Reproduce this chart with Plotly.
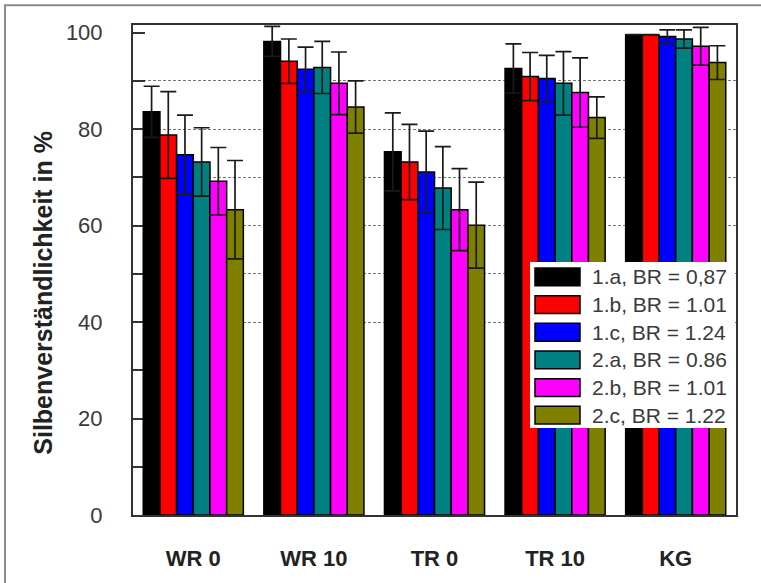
import plotly.graph_objects as go

# Test conditions on the x axis
CONDITIONS = ["WR 0", "WR 10", "TR 0", "TR 10", "KG"]

# Series (one per codec setting) with legend labels and fill colours
SERIES_LABELS = [
    "1.a, BR = 0,87",
    "1.b, BR = 1.01",
    "1.c, BR = 1.24",
    "2.a, BR = 0.86",
    "2.b, BR = 1.01",
    "2.c, BR = 1.22",
]
SERIES_COLORS = ["#000000", "#ff0000", "#0000ff", "#008080", "#ff00ff", "#808000"]

# Mean syllable intelligibility (%) per series, in CONDITIONS order
MEAN_1A = [83.6, 98.2, 75.3, 92.6, 99.6]
MEAN_1B = [78.8, 94.1, 73.2, 90.9, 99.6]
MEAN_1C = [74.7, 92.4, 71.1, 90.5, 99.2]
MEAN_2A = [73.2, 92.8, 67.8, 89.5, 98.7]
MEAN_2B = [69.2, 89.5, 63.3, 87.6, 97.2]
MEAN_2C = [63.3, 84.6, 60.1, 82.4, 93.8]

# Standard deviations (symmetric error bars)
SD_1A = [5.3, 3.1, 8.1, 5.1, 0.0]
SD_1B = [9.0, 4.6, 7.8, 5.0, 0.0]
SD_1C = [8.2, 4.6, 8.5, 4.8, 1.4]
SD_2A = [7.1, 5.4, 8.6, 6.6, 1.9]
SD_2B = [7.0, 6.5, 8.5, 7.2, 3.9]
SD_2C = [10.2, 5.4, 8.9, 4.3, 3.5]

MEANS = [MEAN_1A, MEAN_1B, MEAN_1C, MEAN_2A, MEAN_2B, MEAN_2C]
SDS = [SD_1A, SD_1B, SD_1C, SD_2A, SD_2B, SD_2C]

# Tick values for the y axis and the levels that carry dotted grid lines
Y_TICKS = [0, 20, 40, 60, 80, 100]
GRID_LEVELS = [40, 50, 60, 70, 80, 90]
Y_RANGE = [0, 101.6]
Y_TITLE = "Silbenverständlichkeit in %"

FONT = "Arial, 'Liberation Sans', sans-serif"
W, H = 761, 583
M_L, M_R, M_T, M_B = 133, 25, 25, 62
PW, PH = W - M_L - M_R, H - M_T - M_B


def px_x(px):
    return (px - M_L) / PW


def px_y(py):
    return (H - M_B - py) / PH


fig = go.Figure()

for label, color, mean, sd in zip(SERIES_LABELS, SERIES_COLORS, MEANS, SDS):
    fig.add_trace(go.Bar(
        x=CONDITIONS,
        y=mean,
        name=label,
        marker=dict(color=color, line=dict(color="#000000", width=1.5)),
        error_y=dict(type="data", array=sd, symmetric=True,
                     color="#1a1a1a", thickness=1.7, width=8),
        showlegend=False,
    ))

# Empty trace on the overlay axis that draws the dotted grid
fig.add_trace(go.Scatter(x=[], y=[], yaxis="y2", showlegend=False, hoverinfo="skip"))

# Hand-drawn legend box with wide swatches
shapes = [
    dict(type="rect", xref="paper", yref="paper",
         x0=px_x(530), x1=px_x(735), y0=px_y(433), y1=px_y(265),
         fillcolor="white", line=dict(width=0), layer="above"),
]
annotations = []
for i, (label, color) in enumerate(zip(SERIES_LABELS, SERIES_COLORS)):
    cy = 280 + 28 * i
    shapes.append(dict(type="rect", xref="paper", yref="paper",
                       x0=px_x(535), x1=px_x(580), y0=px_y(cy + 9), y1=px_y(cy - 9),
                       fillcolor=color, line=dict(color="#000000", width=1.5),
                       layer="above"))
    annotations.append(dict(xref="paper", yref="paper", x=px_x(590), y=px_y(cy),
                            xanchor="left", yanchor="middle", showarrow=False,
                            text=label, font=dict(family=FONT, size=21, color="#3a3a3a")))

# Rotated y-axis title
annotations.append(dict(xref="paper", yref="paper", x=px_x(43), y=px_y(296),
                        xanchor="center", yanchor="middle", showarrow=False,
                        textangle=-90, text=Y_TITLE,
                        font=dict(family=FONT, size=25, color="#222222", weight="bold")))

# Grey frame around the whole figure
shapes.append(dict(type="rect", xref="paper", yref="paper",
                   x0=px_x(5), x1=px_x(780), y0=px_y(600), y1=px_y(5),
                   fillcolor="rgba(0,0,0,0)", line=dict(color="#8a8a8a", width=2),
                   layer="above"))

fig.update_layout(
    width=W, height=H,
    margin=dict(l=M_L, r=M_R, t=M_T, b=M_B),
    paper_bgcolor="white", plot_bgcolor="white",
    barmode="group", bargap=0.17, bargroupgap=0,
    font=dict(family=FONT, color="#333333"),
    shapes=shapes,
    annotations=annotations,
    xaxis=dict(
        range=[-0.5, 4.5],
        showline=True, mirror=True, linecolor="#333333", linewidth=2,
        ticks="", showgrid=False,
        tickfont=dict(family=FONT, size=22, color="#222222", weight="bold"),
        ticklabelstandoff=23,
    ),
    yaxis=dict(
        range=Y_RANGE,
        tickvals=Y_TICKS,
        showline=True, mirror=True, linecolor="#333333", linewidth=2,
        ticks="inside", ticklen=12, tickwidth=1.5, tickcolor="#333333",
        minor=dict(dtick=10, tick0=0, ticks="inside", ticklen=12, tickwidth=1.5,
                   tickcolor="#333333", showgrid=False),
        showgrid=False, zeroline=False,
        tickfont=dict(family=FONT, size=22, color="#3a3a3a"),
        ticklabelstandoff=24,
        layer="below traces",
    ),
    yaxis2=dict(
        range=Y_RANGE, overlaying="y", side="left",
        tickvals=GRID_LEVELS, showticklabels=False, ticks="",
        showgrid=True, gridcolor="#777777", gridwidth=1, griddash="3px,2px",
        showline=False, zeroline=False,
    ),
)

fig.write_html("out.html")
